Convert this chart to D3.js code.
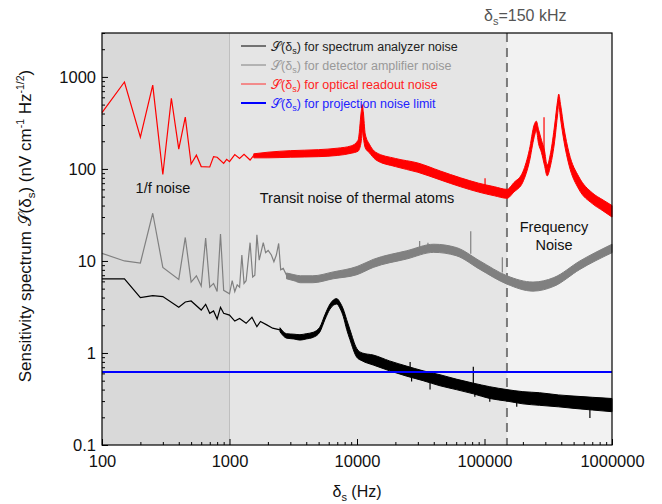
<!DOCTYPE html>
<html>
<head>
<meta charset="utf-8">
<script src="https://cdn.jsdelivr.net/npm/d3@7"></script>
<style>
  body { margin: 0; background: #fff; }
  svg { font-family: "Liberation Sans", Arial, sans-serif; }
</style>
</head>
<body>
<svg id="chart" width="662" height="504"></svg>
<script>
// frequency regions (Hz)
const regionEdges = [100, 1000, 150000, 1000000];
const regionFills = ["#d9d9d9", "#e5e5e5", "#f2f2f2"];

// tick labels
const xTicks = [100, 1000, 10000, 100000, 1000000];
const yTicks = [0.1, 1, 10, 100, 1000];

// spectrum analyzer noise (black): sparse part [f, value]
const analyzerLine = [[100,6.4],[150,6.4],[200,4.0],[250,4.2],[300,4.1],[400,3.14],[450,3.58],[500,3.67],
  [600,2.93],[650,3.38],[700,2.7],[750,2.86],[800,2.34],[850,3.14],[900,2.7],[1000,2.58],[1100,2.22],
  [1200,2.37],[1350,2.1],[1500,2.44],[1640,1.93],[1750,2.2],[1960,2.02],[2180,1.86],[2490,1.78]];
// dense part as [f, low, high]
const analyzerBand = [[2490,1.7,1.88],[2800,1.45,1.62],[3200,1.42,1.6],[3570,1.38,1.58],[4000,1.42,1.62],
  [4540,1.48,1.68],[5100,1.68,1.9],[5600,2.3,2.6],[6140,3.0,3.4],[6920,3.4,3.9],[7400,3.0,3.5],[7800,2.5,3.0],
  [8300,1.8,2.3],[8800,1.4,1.8],[9950,0.9,1.12],[11000,0.82,1.0],[13400,0.74,0.95],[18000,0.64,0.82],
  [24500,0.56,0.72],[33000,0.5,0.64],[44800,0.44,0.58],[60000,0.4,0.52],[81700,0.36,0.47],[110000,0.32,0.43],
  [150000,0.3,0.4],[200000,0.28,0.38],[270000,0.27,0.37],[380000,0.26,0.35],[504000,0.25,0.34],
  [700000,0.24,0.33],[1000000,0.23,0.32]];
// isolated spikes as [f, from, to]
const analyzerSpikes = [[26100,0.6,0.8],[26800,0.49,0.6],[37400,0.4,0.5],[81700,0.45,0.71],[84000,0.335,0.4],
  [110000,0.295,0.36],[179000,0.26,0.32],[671000,0.196,0.26]];

// detector amplifier noise (gray)
const detectorLine = [[100,12.1],[150,10],[200,9.5],[250,33],[300,8.5],[400,6.3],[450,18],[500,5.9],[550,6.9],
  [600,5.35],[650,17.7],[700,5.2],[750,5.7],[800,4.65],[850,19.6],[900,4.8],[1000,4.4],[1050,6.1],[1100,4.65],
  [1150,5.5],[1200,5.2],[1250,11.6],[1300,5.7],[1350,6.1],[1450,15.8],[1520,6.7],[1580,7],[1640,19.2],
  [1710,10.2],[1840,15.8],[1920,12.3],[2010,13],[2130,11.6],[2230,9.8],[2330,11.6],[2430,15.5],[2520,8],
  [2640,8.3],[2800,7]];
const detectorBand = [[2800,6.4,7.4],[3200,6.1,7.1],[3600,5.8,6.9],[4500,5.8,6.9],[6500,6.4,7.6],
  [10000,7.1,8.7],[13400,8.5,10.4],[24500,10.5,12.9],[40000,12.4,15.2],[60000,11.4,14],[92000,8.1,10],
  [150000,5.6,6.9],[240000,4.7,5.9],[350000,5.3,6.6],[560000,8.1,10],[1000000,12.3,15.2]];
const detectorSpikes = [[31000,13,16.5],[36000,13.5,15.8],[78000,12,21],[138000,7.5,11]];

// optical readout noise (red)
const opticalLine = [[100,409],[150,880],[200,221],[250,813],[300,87],[350,586],[400,164],[450,365],[500,113],
  [550,141],[600,106],[700,105],[750,136],[800,134],[900,115],[950,127],[1000,120],[1100,143],[1200,130],
  [1300,144],[1450,125],[1550,140]];
const opticalBand = [[1550,132,146],[2000,132,152],[3000,134,158],[5000,136,162],[7000,140,168],[9000,148,178],
  [10200,156,205],[10800,200,420],[11000,260,500],[11200,220,420],[11600,170,240],[12500,150,186],
  [14000,126,152],[20000,106,130],[30000,92,116],[45000,76,95],[65000,64,80],[90000,56,70],[120000,51,64],
  [150000,48,60],[170000,56,71],[200000,72,93],[225000,120,162],[245000,220,300],[255000,262,330],
  [265000,190,270],[280000,150,205],[295000,110,160],[310000,84,110],[330000,110,150],[355000,200,300],
  [375000,400,560],[382000,500,650],[395000,350,500],[420000,200,280],[460000,110,150],[550000,60,82],
  [700000,42,55],[850000,35,46],[1000000,30,40]];
const opticalSpikes = [[101000,62,79],[293000,150,365]];

// projection noise limit (blue)
const projectionLimit = 0.62;

const legendItems = [
  {label: "for spectrum analyzer noise", line: "#000", text: "#222", w: 1},
  {label: "for detector amplifier noise", line: "#808080", text: "#999", w: 1},
  {label: "for optical readout noise", line: "#ff3030", text: "#f22", w: 1},
  {label: "for projection noise limit", line: "#0000ff", text: "#22f", w: 2}
];

const svg = d3.select("#chart");
const plotLeft = 102, plotRight = 612, plotTop = 33, plotBottom = 445;

const x = d3.scaleLog().domain([100, 1000000]).range([plotLeft, plotRight]);
const y = d3.scaleLog().domain([0.1, 3000]).range([plotBottom, plotTop]);

// background regions
svg.append("g").selectAll("rect")
  .data(regionFills)
  .join("rect")
  .attr("x", (d, i) => x(regionEdges[i]))
  .attr("y", plotTop)
  .attr("width", (d, i) => x(regionEdges[i + 1]) - x(regionEdges[i]))
  .attr("height", plotBottom - plotTop)
  .attr("fill", d => d);

svg.append("line")
  .attr("x1", x(1000)).attr("x2", x(1000))
  .attr("y1", plotTop).attr("y2", plotBottom)
  .attr("stroke", "#bfbfbf").attr("stroke-width", 1);

svg.append("line")
  .attr("x1", x(150000)).attr("x2", x(150000))
  .attr("y1", plotTop).attr("y2", plotBottom)
  .attr("stroke", "#7a7a7a").attr("stroke-width", 2)
  .attr("stroke-dasharray", "9,6");

// text annotations
const notes = svg.append("g").attr("font-size", 14.5).attr("fill", "#111");
notes.append("text").attr("x", 163).attr("y", 193).attr("text-anchor", "middle").text("1/f noise");
notes.append("text").attr("x", 357).attr("y", 203).attr("text-anchor", "middle").text("Transit noise of thermal atoms");
notes.append("text").attr("x", 554).attr("y", 232).attr("text-anchor", "middle").text("Frequency");
notes.append("text").attr("x", 554).attr("y", 250).attr("text-anchor", "middle").text("Noise");

const line = d3.line().x(d => x(d[0])).y(d => y(d[1]));
const area = d3.area().x(d => x(d[0])).y0(d => y(d[1])).y1(d => y(d[2])).curve(d3.curveMonotoneX);

function drawSeries(pts, band, spikes, color) {
  const g = svg.append("g");
  g.append("path").datum(band).attr("d", area)
    .attr("fill", color).attr("stroke", color).attr("stroke-width", 1);
  g.append("path").datum(pts).attr("d", line)
    .attr("fill", "none").attr("stroke", color).attr("stroke-width", 1.2);
  g.selectAll("line").data(spikes).join("line")
    .attr("x1", d => x(d[0])).attr("x2", d => x(d[0]))
    .attr("y1", d => y(d[1])).attr("y2", d => y(d[2]))
    .attr("stroke", color).attr("stroke-width", 1.2);
}
drawSeries(detectorLine, detectorBand, detectorSpikes, "#808080");
drawSeries(analyzerLine, analyzerBand, analyzerSpikes, "#000");
drawSeries(opticalLine, opticalBand, opticalSpikes, "#ff0000");

svg.append("line")
  .attr("x1", plotLeft).attr("x2", plotRight)
  .attr("y1", y(projectionLimit)).attr("y2", y(projectionLimit))
  .attr("stroke", "#0000ff").attr("stroke-width", 2);

// legend
const leg = svg.append("g").attr("font-size", 12.5);
legendItems.forEach((d, i) => {
  const ly = 46 + i * 19;
  leg.append("line").attr("x1", 241).attr("x2", 266).attr("y1", ly).attr("y2", ly)
    .attr("stroke", d.line).attr("stroke-width", d.w);
  const t = leg.append("text").attr("x", 271).attr("y", ly + 4.5).attr("fill", d.text);
  t.append("tspan").text("𝒮(δ");
  t.append("tspan").attr("font-size", 9).attr("dy", 3).text("s");
  t.append("tspan").attr("dy", -3).text(") " + d.label);
});

// axes
function minorTicks() {
  const out = [];
  for (let p = 2; p <= 5; p++) for (let m = 2; m <= 9; m++) out.push(m * Math.pow(10, p));
  return out;
}
function minorTicksY() {
  const out = [];
  for (let p = -1; p <= 3; p++) for (let m = 2; m <= 9; m++) {
    const v = m * Math.pow(10, p);
    if (v <= 3000) out.push(v);
  }
  return out;
}

svg.append("g").attr("transform", `translate(0,${plotBottom})`)
  .call(d3.axisBottom(x).tickValues(xTicks).tickFormat(d3.format("d")).tickSize(-6).tickPadding(10));
svg.append("g").attr("transform", `translate(0,${plotBottom})`)
  .call(d3.axisBottom(x).tickValues(minorTicks()).tickFormat("").tickSize(-3));
svg.append("g").attr("transform", `translate(${plotLeft},0)`)
  .call(d3.axisLeft(y).tickValues(yTicks).tickFormat(d => d < 1 ? "0.1" : d3.format("d")(d)).tickSize(-6).tickPadding(6));
svg.append("g").attr("transform", `translate(${plotLeft},0)`)
  .call(d3.axisLeft(y).tickValues(minorTicksY()).tickFormat("").tickSize(-3));

svg.selectAll(".domain").remove();
svg.selectAll(".tick text").attr("font-size", 16.5).attr("font-family", "Liberation Sans, Arial, sans-serif").attr("fill", "#111");

svg.append("rect").attr("x", plotLeft).attr("y", plotTop).attr("width", plotRight - plotLeft).attr("height", plotBottom - plotTop)
  .attr("fill", "none").attr("stroke", "#000").attr("stroke-width", 1.2);

// axis titles
const xt = svg.append("text").attr("x", 357).attr("y", 497).attr("text-anchor", "middle")
  .attr("font-size", 16).attr("fill", "#111");
xt.append("tspan").text("δ");
xt.append("tspan").attr("font-size", 11).attr("dy", 4).text("s");
xt.append("tspan").attr("dy", -4).text(" (Hz)");

const yt = svg.append("text").attr("transform", "translate(31,226) rotate(-90)").attr("text-anchor", "middle")
  .attr("font-size", 17).attr("fill", "#111");
yt.append("tspan").text("Sensitivity spectrum 𝒮(δ");
yt.append("tspan").attr("font-size", 11.5).attr("dy", 4).text("s");
yt.append("tspan").attr("dy", -4).text(") (nV cm");
yt.append("tspan").attr("font-size", 10.5).attr("dy", -7).text("-1");
yt.append("tspan").attr("dy", 7).text(" Hz");
yt.append("tspan").attr("font-size", 10.5).attr("dy", -7).text("-1/2");
yt.append("tspan").attr("dy", 7).text(")");

// top annotation
const ta = svg.append("text").attr("x", 484).attr("y", 21).attr("font-size", 16).attr("fill", "#555");
ta.append("tspan").text("δ");
ta.append("tspan").attr("font-size", 11).attr("dy", 4).text("s");
ta.append("tspan").attr("dy", -4).text("=150 kHz");
</script>
</body>
</html>
